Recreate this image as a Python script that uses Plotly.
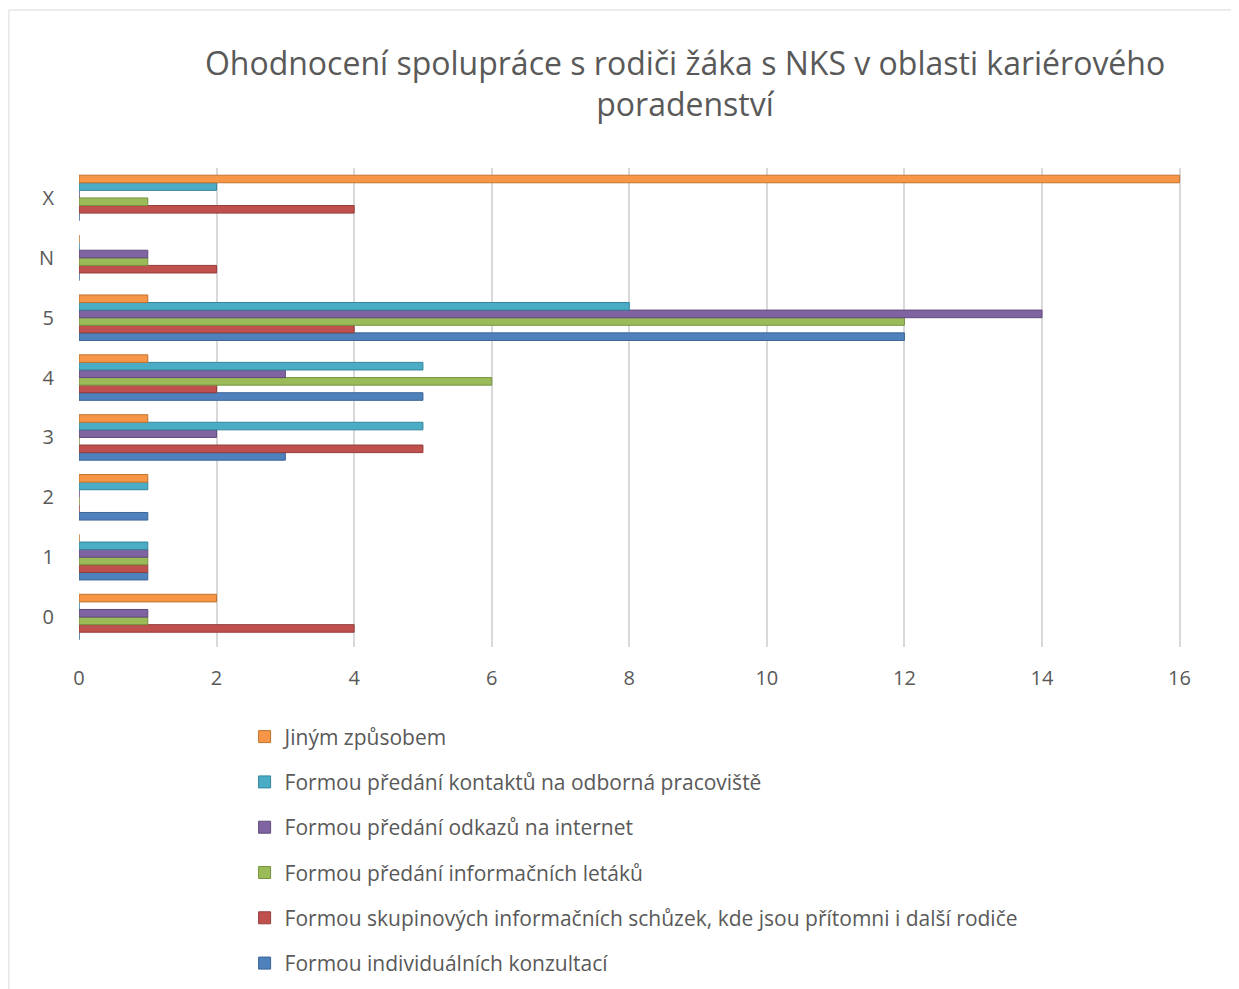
import plotly.graph_objs as go

# categories (bottom to top)
categories = ['0', '1', '2', '3', '4', '5', 'N', 'X']

# series values per category
individualni = [0, 1, 1, 3, 5, 12, 0, 0]
skupinove = [4, 1, 0, 5, 2, 4, 2, 4]
letaky = [1, 1, 0, 0, 6, 12, 1, 1]
odkazy = [1, 1, 0, 2, 3, 14, 1, 0]
kontakty = [0, 1, 1, 5, 5, 8, 0, 2]
jinym = [2, 0, 1, 1, 1, 1, 0, 16]

series_names = [
    'Formou individuálních konzultací',
    'Formou skupinových informačních schůzek, kde jsou přítomni i další rodiče',
    'Formou předání informačních letáků',
    'Formou předání odkazů na internet',
    'Formou předání kontaktů na odborná pracoviště',
    'Jiným způsobem',
]
series_values = [individualni, skupinove, letaky, odkazy, kontakty, jinym]
colors = ['#4F81BD', '#C0504D', '#9BBB59', '#8064A2', '#4BACC6', '#F79646']
edges = ['#3A6496', '#943C3A', '#76923F', '#5F4A7A', '#33869C', '#C0732F']

x_ticks = [0, 2, 4, 6, 8, 10, 12, 14, 16]

fig = go.Figure()
n = len(series_names)
for i, (name, vals, col, edge) in enumerate(zip(series_names, series_values, colors, edges)):
    fig.add_trace(go.Bar(
        y=categories, x=vals, name=name, orientation='h',
        legendgroup=name, legendrank=n - i,  # last series listed first
        marker=dict(color=col, line=dict(color=edge, width=1)),
    ))

# page body adds 8px, so the figure is a bit smaller and shifted
fig.update_layout(
    width=1231, height=981,
    paper_bgcolor='white', plot_bgcolor='white',
    barmode='group', bargap=0.24, bargroupgap=0,
    margin=dict(l=71, r=56, t=160, b=342, autoexpand=False),
    font=dict(family='Open Sans, Noto Sans, sans-serif', color='#595959'),
    title=dict(
        text='Ohodnocení spolupráce s rodiči žáka s NKS v oblasti kariérového<br>poradenství',
        x=0.55, xanchor='center', y=0.932, yanchor='top',
        font=dict(size=32, color='#595959'),
    ),
    xaxis=dict(
        range=[0, 16.05], tickvals=x_ticks, showgrid=True, gridcolor='#D9D9D9',
        gridwidth=2, zeroline=False, showline=False,
        tickfont=dict(size=20, color='#595959'), ticklabelstandoff=17,
    ),
    yaxis=dict(
        showgrid=False, zeroline=False, showline=False,
        tickfont=dict(size=20, color='#595959'), ticklabelstandoff=24,
    ),
    legend=dict(
        orientation='v', traceorder='grouped', x=0.15, xanchor='left',
        y=-0.145, yanchor='top', font=dict(size=21, color='#595959'),
        tracegroupgap=15, itemwidth=30,
    ),
)

# outer chart border
fig.add_shape(type='rect', xref='paper', yref='paper',
              x0=-0.0635, x1=1.06, y0=-0.72, y1=1.33,
              line=dict(color='#D9D9D9', width=1))

fig.write_html('out.html')
